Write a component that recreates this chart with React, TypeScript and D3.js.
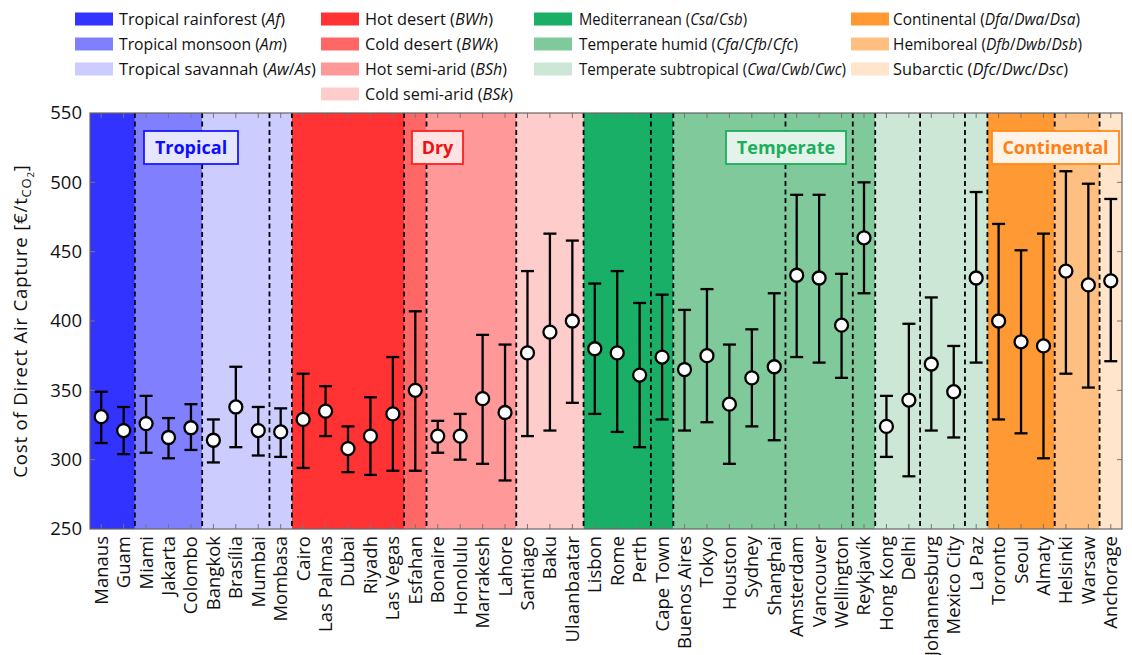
import React from 'react'
import * as d3 from 'd3'

// ---- data ----
const cities = [
  'Manaus', 'Guam', 'Miami', 'Jakarta', 'Colombo', 'Bangkok', 'Brasília', 'Mumbai', 'Mombasa',
  'Cairo', 'Las Palmas', 'Dubai', 'Riyadh', 'Las Vegas', 'Esfahan',
  'Bonaire', 'Honolulu', 'Marrakesh', 'Lahore', 'Santiago', 'Baku', 'Ulaanbaatar',
  'Lisbon', 'Rome', 'Perth', 'Cape Town',
  'Buenos Aires', 'Tokyo', 'Houston', 'Sydney', 'Shanghai', 'Amsterdam', 'Vancouver', 'Wellington', 'Reykjavík',
  'Hong Kong', 'Delhi', 'Johannesburg', 'Mexico City', 'La Paz',
  'Toronto', 'Seoul', 'Almaty', 'Helsinki', 'Warsaw', 'Anchorage'
]
const cost = [
  331, 321, 326, 316, 323, 314, 338, 321, 320,
  329, 335, 308, 317, 333, 350,
  317, 317, 344, 334, 377, 392, 400,
  380, 377, 361, 374,
  365, 375, 340, 359, 367, 433, 431, 397, 460,
  324, 343, 369, 349, 431,
  400, 385, 382, 436, 426, 429
]
const costHigh = [
  349, 338, 346, 330, 340, 329, 367, 338, 337,
  362, 353, 324, 345, 374, 407,
  328, 333, 390, 383, 436, 463, 458,
  427, 436, 413, 419,
  408, 423, 383, 394, 420, 491, 491, 434, 500,
  346, 398, 417, 382, 493,
  470, 451, 463, 508, 499, 488
]
const costLow = [
  312, 304, 305, 301, 307, 298, 309, 303, 302,
  294, 317, 291, 289, 292, 292,
  305, 300, 297, 285, 317, 321, 341,
  333, 320, 309, 329,
  321, 327, 297, 324, 314, 374, 370, 359, 420,
  302, 288, 321, 316, 370,
  329, 319, 301, 362, 352, 371
]
// climate class (colour) and sub-type (dashed separators) of each city
const climate = [
  'Af', 'Af', 'Am', 'Am', 'Am', 'Aw', 'Aw', 'Aw', 'Aw',
  'BWh', 'BWh', 'BWh', 'BWh', 'BWh', 'BWk',
  'BSh', 'BSh', 'BSh', 'BSh', 'BSk', 'BSk', 'BSk',
  'Cs', 'Cs', 'Cs', 'Cs',
  'Cf', 'Cf', 'Cf', 'Cf', 'Cf', 'Cf', 'Cf', 'Cf', 'Cf',
  'Cw', 'Cw', 'Cw', 'Cw', 'Cw',
  'Da', 'Da', 'Da', 'Db', 'Db', 'Dc'
]
const subtype = [
  'Af', 'Af', 'Am', 'Am', 'Am', 'Aw', 'Aw', 'Aw', 'As',
  'BWh', 'BWh', 'BWh', 'BWh', 'BWh', 'BWk',
  'BSh', 'BSh', 'BSh', 'BSh', 'BSk', 'BSk', 'BSk',
  'Csa', 'Csa', 'Csa', 'Csb',
  'Cfa', 'Cfa', 'Cfa', 'Cfa', 'Cfa', 'Cfb', 'Cfb', 'Cfb', 'Cfc',
  'Cwa', 'Cwa', 'Cwb', 'Cwb', 'Cwc',
  'Da', 'Da', 'Da', 'Db', 'Db', 'Dc'
]
const yTicks = [250, 300, 350, 400, 450, 500, 550]

const legendKeys = [
  ['Af', 'Am', 'Aw'],
  ['BWh', 'BWk', 'BSh', 'BSk'],
  ['Cs', 'Cf', 'Cw'],
  ['Da', 'Db', 'Dc']
]
const legendNames: Record<string, string> = {
  Af: 'Tropical rainforest', Am: 'Tropical monsoon', Aw: 'Tropical savannah',
  BWh: 'Hot desert', BWk: 'Cold desert', BSh: 'Hot semi-arid', BSk: 'Cold semi-arid',
  Cs: 'Mediterranean', Cf: 'Temperate humid', Cw: 'Temperate subtropical',
  Da: 'Continental', Db: 'Hemiboreal', Dc: 'Subarctic'
}
const legendCodes: Record<string, string[]> = {
  Af: ['Af'], Am: ['Am'], Aw: ['Aw', 'As'],
  BWh: ['BWh'], BWk: ['BWk'], BSh: ['BSh'], BSk: ['BSk'],
  Cs: ['Csa', 'Csb'], Cf: ['Cfa', 'Cfb', 'Cfc'], Cw: ['Cwa', 'Cwb', 'Cwc'],
  Da: ['Dfa', 'Dwa', 'Dsa'], Db: ['Dfb', 'Dwb', 'Dsb'], Dc: ['Dfc', 'Dwc', 'Dsc']
}
const groupLabels = ['Tropical', 'Dry', 'Temperate', 'Continental']

// ---- styles ----
const colors: Record<string, string> = {
  Af: '#3333ff', Am: '#8080ff', Aw: '#ccccff',
  BWh: '#ff3333', BWk: '#ff6666', BSh: '#ff9999', BSk: '#ffcccc',
  Cs: '#1aaf66', Cf: '#80c99b', Cw: '#cce7d6',
  Da: '#ff9933', Db: '#ffbf80', Dc: '#ffe5cc'
}
// rendered width of each legend entry, to match the original typesetting
const legendTextWidth: Record<string, number> = {
  Af: 166, Am: 168, Aw: 197,
  BWh: 128, BWk: 133, BSh: 142, BSk: 148,
  Cs: 168, Cf: 219, Cw: 267,
  Da: 187, Db: 189, Dc: 175
}
const groupStyle = [
  { stroke: '#1a1aff', fill: '#e6e6ff', text: '#0d0dff', x0: 144, x1: 238 },
  { stroke: '#ff2020', fill: '#ffe3e3', text: '#ee1111', x0: 412, x1: 463 },
  { stroke: '#1aaf5d', fill: '#e3f3e9', text: '#1aaf5d', x0: 726, x1: 846 },
  { stroke: '#ff8c1a', fill: '#fff2e6', text: '#ff8010', x0: 992, x1: 1119 }
]
const FONT = '"Open Sans", Lato, sans-serif'

const W = 1132
const H = 655
const margin = { top: 113, right: 10, bottom: 126, left: 90 }
const iw = W - margin.left - margin.right
const ih = H - margin.top - margin.bottom

export default function App() {
  const x = d3.scaleBand<string>().domain(cities).range([0, iw]).padding(0)
  const y = d3.scaleLinear().domain([250, 550]).range([ih, 0])
  const bw = x.bandwidth()

  // background spans of each climate class
  const spans: { key: string; start: number; end: number }[] = []
  climate.forEach((c, i) => {
    const last = spans[spans.length - 1]
    if (last && last.key === c) last.end = i
    else spans.push({ key: c, start: i, end: i })
  })
  const separators: number[] = []
  subtype.forEach((s, i) => {
    if (i > 0 && s !== subtype[i - 1]) separators.push(i)
  })

  const legendX = [
    { sw: 75, tx: 119 },
    { sw: 321, tx: 365 },
    { sw: 534, tx: 579 },
    { sw: 851, tx: 893 }
  ]
  const rowY = [19, 44, 69, 94]

  // legend label pieces: plain name, then italic codes separated by upright slashes
  const legendParts = (k: string) => {
    const parts: { t: string; it: boolean }[] = [{ t: legendNames[k] + ' (', it: false }]
    legendCodes[k].forEach((c, j) => {
      if (j > 0) parts.push({ t: '/', it: false })
      parts.push({ t: c, it: true })
    })
    parts.push({ t: ')', it: false })
    return parts
  }

  return (
    <svg width={W} height={H} style={{ position: 'absolute', left: 0, top: 0, background: '#fff' }}
      fontFamily={FONT}>
      {/* legend */}
      {legendKeys.map((col, ci) => col.map((k, ri) => (
        <g key={k} transform={`translate(0,${rowY[ri]})`}>
          <rect x={legendX[ci].sw} y={-6.5} width={38} height={13} fill={colors[k]} />
          <text x={legendX[ci].tx} y={0} dy="0.35em" fontSize={16.6} fill="#111"
            textLength={legendTextWidth[k]} lengthAdjust="spacingAndGlyphs">
            {legendParts(k).map((p, j) => (
              <tspan key={j} fontStyle={p.it ? 'italic' : 'normal'}>{p.t}</tspan>
            ))}
          </text>
        </g>
      )))}

      <g transform={`translate(${margin.left},${margin.top})`}>
        {spans.map(s => (
          <rect key={s.start} x={x(cities[s.start])} y={0}
            width={(s.end - s.start + 1) * bw} height={ih} fill={colors[s.key]} />
        ))}
        {/* ticks */}
        {cities.map(c => (
          <g key={c} stroke="#777" strokeWidth={1}>
            <line x1={x(c)! + bw / 2} x2={x(c)! + bw / 2} y1={0} y2={5} />
            <line x1={x(c)! + bw / 2} x2={x(c)! + bw / 2} y1={ih} y2={ih - 5} />
          </g>
        ))}
        {yTicks.slice(1, -1).map(t => (
          <g key={t} stroke="#777" strokeWidth={1}>
            <line x1={0} x2={5} y1={y(t)} y2={y(t)} />
            <line x1={iw} x2={iw - 5} y1={y(t)} y2={y(t)} />
          </g>
        ))}
        {separators.map(i => (
          <line key={i} x1={i * bw} x2={i * bw} y1={0} y2={ih}
            stroke="#000" strokeWidth={1.8} strokeDasharray="5,3.5" />
        ))}
        <rect x={0} y={0} width={iw} height={ih} fill="none" stroke="#666" strokeWidth={1.2} />

        {/* group labels */}
        {groupLabels.map((g, i) => {
          const st = groupStyle[i]
          const x0 = st.x0 - margin.left
          const x1 = st.x1 - margin.left
          return (
            <g key={g}>
              <rect x={x0} y={18} width={x1 - x0} height={33} fill={st.fill}
                stroke={st.stroke} strokeWidth={1.8} />
              <text x={(x0 + x1) / 2} y={34.5} dy="0.35em" textAnchor="middle"
                fontSize={18} fontWeight="bold" fill={st.text}>{g}</text>
            </g>
          )
        })}

        {/* error bars and markers */}
        {cities.map((c, i) => {
          const cx = x(c)! + bw / 2
          return (
            <g key={c} stroke="#000" strokeWidth={2.3}>
              <line x1={cx} x2={cx} y1={y(costHigh[i])} y2={y(costLow[i])} />
              <line x1={cx - 6.5} x2={cx + 6.5} y1={y(costHigh[i])} y2={y(costHigh[i])} />
              <line x1={cx - 6.5} x2={cx + 6.5} y1={y(costLow[i])} y2={y(costLow[i])} />
              <circle cx={cx} cy={y(cost[i])} r={6.5} fill="#fff" />
            </g>
          )
        })}

        {/* y tick labels */}
        {yTicks.map(t => (
          <text key={t} x={-8} y={y(t)} dy="0.35em" textAnchor="end" fontSize={18.5} fill="#111">{t}</text>
        ))}
        {/* city labels */}
        {cities.map(c => (
          <text key={c} transform={`translate(${x(c)! + bw / 2},${ih + 7}) rotate(-90)`}
            textAnchor="end" dy="0.35em" fontSize={18.5} fill="#111">{c}</text>
        ))}
        {/* y title */}
        <text transform={`translate(${20 - margin.left},${ih / 2}) rotate(-90)`} textAnchor="middle"
          dy="0.35em" fontSize={18.6} letterSpacing={0.8} fill="#111">
          Cost of Direct Air Capture [€/t
          <tspan fontSize={13} dy="4">CO</tspan>
          <tspan fontSize={9.5} dy="3">2</tspan>
          <tspan dy="-7">]</tspan>
        </text>
      </g>
    </svg>
  )
}
